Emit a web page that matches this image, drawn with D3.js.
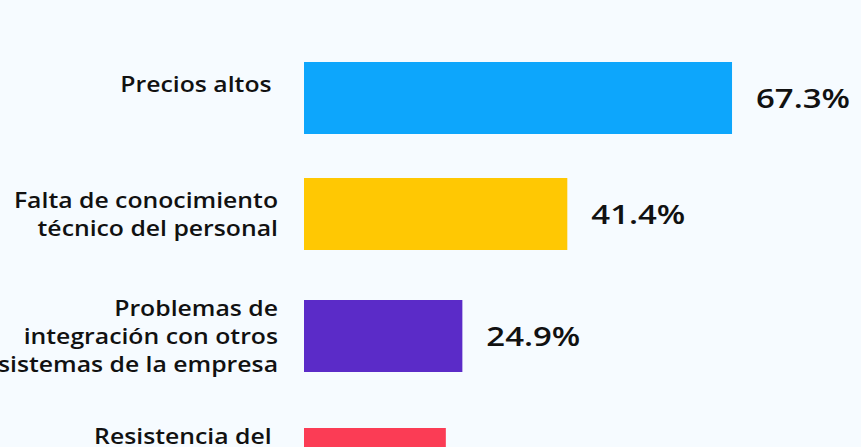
<!DOCTYPE html>
<html><head><meta charset="utf-8">
<script src="https://cdn.jsdelivr.net/npm/d3@7"></script>
<style>
html,body{margin:0;padding:0;background:#f6fbff;overflow:hidden;}
text{white-space:pre;}
</style></head>
<body><svg id="c" width="861" height="447"></svg>
<script>
const categories = [
  ["Precios altos ", ""],
  ["Falta de conocimiento", "técnico del personal"],
  ["Problemas de", "integración con otros", "sistemas de la empresa"],
  ["Resistencia del ", "personal al", "cambio"]
];
const values = [67.3, 41.4, 24.9, 22.3];
const valueLabels = ["67.3%", "41.4%", "24.9%", "22.3%"];
const colors = ["#0da6fc", "#ffc803", "#5b2bc8", "#fb3c55"];

const svg = d3.select("#c");
const barH = 72, lineH = 28, gap = 44, firstCenter = 98;
const labelRight = 278, barLeft = 304;
const fontFam = "'Open Sans', sans-serif";
const labelStretch = 1.18, valueStretch = 1.22;

// row layout from label line counts
const rowH = categories.map(l => Math.max(barH, l.length * lineH));
const centers = [];
let c = firstCenter;
rowH.forEach((h, i) => { if (i > 0) c += rowH[i-1]/2 + gap + h/2; centers.push(c); });

const x = d3.scaleLinear().domain([0, 100]).range([barLeft, barLeft + 636]);
const y = d3.scaleOrdinal().domain(d3.range(values.length)).range(centers);

const g = svg.append("g");
const rows = g.selectAll("g.row").data(values).join("g").attr("class","row");
rows.append("rect")
  .attr("x", x(0)).attr("y", (d,i) => y(i) - barH/2)
  .attr("width", d => x(d) - x(0)).attr("height", barH)
  .attr("fill", (d,i) => colors[i]);
rows.append("text")
  .attr("transform", (d,i) => `translate(${x(d) + 24},${y(i)}) scale(${valueStretch},1)`)
  .attr("dy", "0.36em")
  .attr("font-family", fontFam).attr("font-size", 27).attr("font-weight", 600)
  .attr("fill", "#111")
  .text((d,i) => valueLabels[i]);
rows.each(function(d,i){
  const lines = categories[i];
  const t = d3.select(this).append("text")
    .attr("transform", `translate(${labelRight},${y(i)}) scale(${labelStretch},1)`)
    .attr("text-anchor","end")
    .attr("font-family", fontFam).attr("font-size", 21).attr("font-weight", 600)
    .attr("fill", "#111");
  lines.forEach((ln, k) => {
    t.append("tspan").attr("x", 0)
      .attr("y", (k - (lines.length-1)/2) * lineH)
      .attr("dy","0.36em").text(ln);
  });
});
</script></body></html>
